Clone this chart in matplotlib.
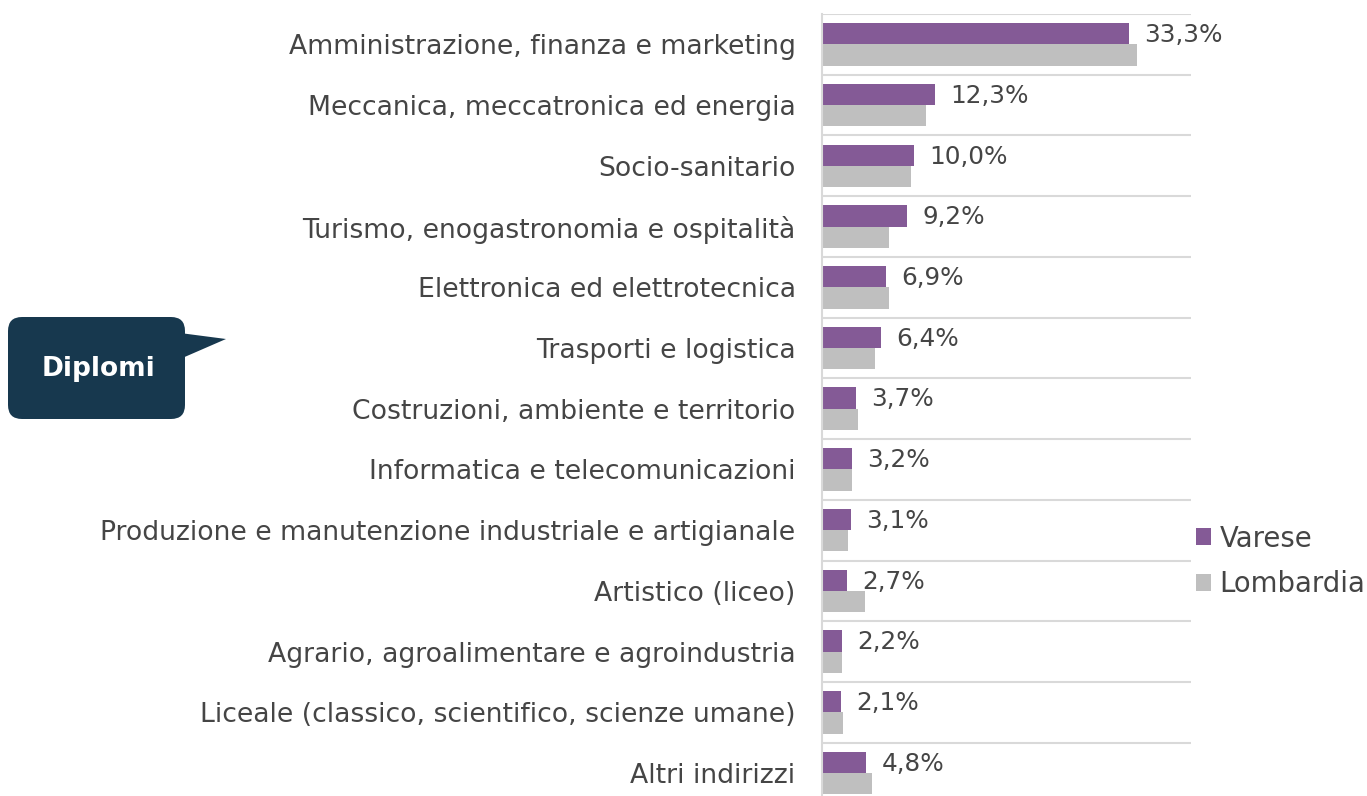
import matplotlib
matplotlib.use("Agg")
import matplotlib.pyplot as plt
from matplotlib.patches import FancyBboxPatch, Polygon
import numpy as np

categories = [
    "Amministrazione, finanza e marketing",
    "Meccanica, meccatronica ed energia",
    "Socio-sanitario",
    "Turismo, enogastronomia e ospitalità",
    "Elettronica ed elettrotecnica",
    "Trasporti e logistica",
    "Costruzioni, ambiente e territorio",
    "Informatica e telecomunicazioni",
    "Produzione e manutenzione industriale e artigianale",
    "Artistico (liceo)",
    "Agrario, agroalimentare e agroindustria",
    "Liceale (classico, scientifico, scienze umane)",
    "Altri indirizzi",
]
varese = [33.3, 12.3, 10.0, 9.2, 6.9, 6.4, 3.7, 3.2, 3.1, 2.7, 2.2, 2.1, 4.8]
lombardia = [34.2, 11.3, 9.7, 7.3, 7.3, 5.7, 3.9, 3.2, 2.8, 4.7, 2.2, 2.3, 5.4]
series_names = ["Varese", "Lombardia"]

PURPLE = "#845A96"
GRAY = "#BFBFBF"
TEXT = "#454545"
FONT = "DejaVu Sans"
FS_CAT = 19.2
FS_VAL = 17.8
FS_LEG = 19.8

W, H = 1367, 796
fig = plt.figure(figsize=(W / 100, H / 100), dpi=100)

left, right, top, bottom = 822, 1191, 14, 803.4
ax = fig.add_axes([left / W, 1 - bottom / H, (right - left) / W, (bottom - top) / H])

y = np.arange(len(categories))
bh = 0.35
ax.barh(y - bh / 2, varese, height=bh, color=PURPLE, label=series_names[0], zorder=3)
ax.barh(y + bh / 2, lombardia, height=bh, color=GRAY, label=series_names[1], zorder=3)

ax.set_xlim(0, 40)
ax.set_ylim(len(categories) - 0.5, -0.5)
ax.set_xticks([])
ax.set_yticks(y)
ax.set_yticklabels(categories, fontsize=FS_CAT, color=TEXT, family=FONT)
ax.tick_params(axis="y", length=0, pad=19)
for b in np.arange(-0.5, len(categories) + 0.5, 1):
    ax.axhline(b, color="#D9D9D9", lw=1.5, zorder=1)
for s in ["top", "right", "bottom"]:
    ax.spines[s].set_visible(False)
ax.spines["left"].set_color("#D9D9D9")
ax.spines["left"].set_linewidth(1.5)
ax.spines["left"].set_zorder(4)

for yi, v in zip(y, varese):
    ax.annotate(f"{v:.1f}%".replace(".", ","), (v, yi - bh / 2), xytext=(11, -1),
                textcoords="offset points", va="center", ha="left",
                fontsize=FS_VAL, color=TEXT, family=FONT)

leg = fig.legend(loc="center left", bbox_to_anchor=(1196 / W, 1 - 561.5 / H),
                 frameon=False,
                 prop={"family": FONT, "size": FS_LEG},
                 handlelength=0.56, handleheight=0.56, handletextpad=0.3,
                 labelspacing=0.65, borderaxespad=0, borderpad=0)
for t in leg.get_texts():
    t.set_color(TEXT)

# callout overlay
ov = fig.add_axes([0, 0, 1, 1], zorder=-1)
ov.set_xlim(0, W)
ov.set_ylim(H, 0)
ov.axis("off")
NAVY = "#17384E"
r = 14
box = FancyBboxPatch((8 + r, 317 + r), 177 - 2 * r, 102 - 2 * r,
                     boxstyle=f"round,pad={r}", fc=NAVY, ec="none")
ov.add_patch(box)
ov.add_patch(Polygon([(180, 333), (226, 339), (180, 359)], closed=True, fc=NAVY, ec="none"))
ov.text(98, 369, "Diplomi", color="white", fontsize=19, fontweight="bold",
        family=FONT, ha="center", va="center")

fig.savefig("out.png", dpi=100)
